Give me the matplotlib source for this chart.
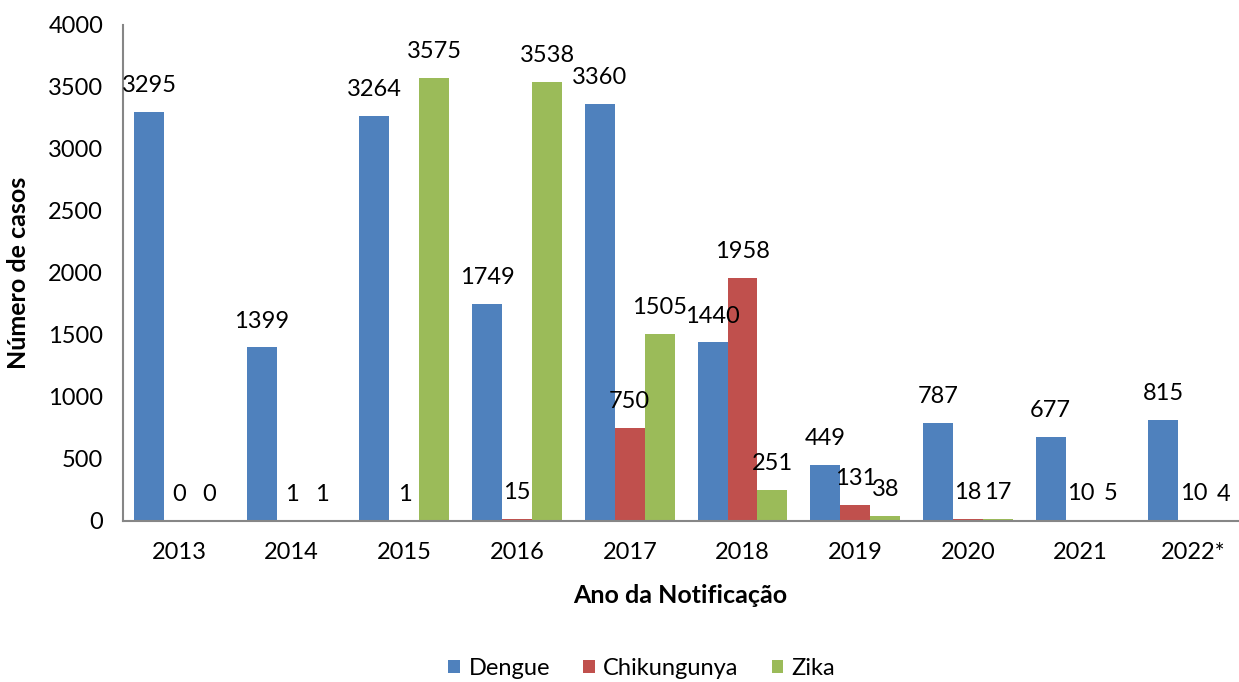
import numpy as np
import matplotlib.pyplot as plt

plt.rcParams["font.family"] = ["Lato", "DejaVu Sans"]

# dados
anos = ["2013", "2014", "2015", "2016", "2017", "2018", "2019", "2020", "2021", "2022*"]
dengue = [3295, 1399, 3264, 1749, 3360, 1440, 449, 787, 677, 815]
chikungunya = [0, 1, 1, 15, 750, 1958, 131, 18, 10, 10]
zika = [0, 1, 3575, 3538, 1505, 251, 38, 17, 5, 4]

series = [
    ("Dengue", dengue, "#4F81BD"),
    ("Chikungunya", chikungunya, "#C0504D"),
    ("Zika", zika, "#9BBB59"),
]

FS = 17

fig = plt.figure(figsize=(12.39, 6.82), dpi=100)
# o eixo continua um pouco além da borda direita, como no recorte original
ax = fig.add_axes([0.099, 0.2361, 0.9096, 0.7273])

x = np.arange(len(anos))
w = 0.266
for i, (nome, vals, cor) in enumerate(series):
    pos = x + (i - 1) * w
    ax.bar(pos, vals, width=w, color=cor, label=nome, edgecolor="none")
    # rótulos de dados acima de cada barra
    for p, v in zip(pos, vals):
        ax.annotate(str(v), (p, v), xytext=(0, 19), textcoords="offset points",
                    ha="center", va="center", fontsize=FS)

ax.set_xlim(-0.5, len(anos) - 0.5)
ax.set_ylim(0, 4000)
ax.set_yticks(np.arange(0, 4001, 500))
ax.set_xticks(x)
ax.set_xticklabels(anos)
ax.tick_params(axis="both", length=0, labelsize=FS)
ax.tick_params(axis="x", pad=15)
ax.tick_params(axis="y", pad=14)

for s in ["top", "right"]:
    ax.spines[s].set_visible(False)
for s in ["left", "bottom"]:
    ax.spines[s].set_color("#868686")
    ax.spines[s].set_linewidth(1.5)

ax.set_ylabel("Número de casos", fontsize=18, fontweight="bold")
ax.set_xlabel("Ano da Notificação", fontsize=18, fontweight="bold")
ax.yaxis.set_label_coords(-0.082, 0.5)
ax.xaxis.set_label_coords(0.495, -0.128)

fig.legend(loc="center", bbox_to_anchor=(0.518, 0.02), ncol=3, frameon=False,
           fontsize=FS, handlelength=0.5, handleheight=0.5, columnspacing=1.4,
           handletextpad=0.35)

fig.savefig("out.png", dpi=100)
